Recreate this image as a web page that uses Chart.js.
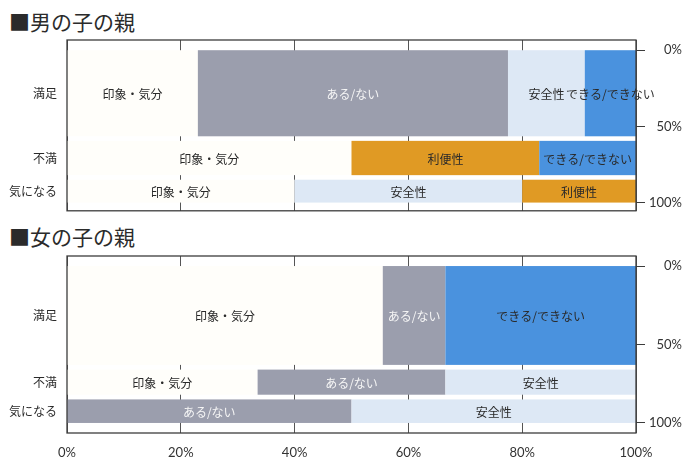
<!DOCTYPE html>
<html lang="ja">
<head>
    <meta charset="UTF-8">
    <title>男の子の親・女の子の親</title>
    <style>
        body { margin: 0; background: #ffffff; width: 685px; height: 458px; position: relative; overflow: hidden; font-family: "Noto Sans CJK JP", sans-serif; }
        .title { position: absolute; left: 9px; font-size: 21px; line-height: 1; color: #2b2b2b; }
        #title1 { top: 11px; }
        #title2 { top: 226px; }
        .box { position: absolute; left: 0; width: 685px; }
        #box1 { top: 0; height: 228px; }
        #box2 { top: 228px; height: 230px; }
    </style>
</head>
<body>
    <div class="title" id="title1">■男の子の親</div>
    <div class="title" id="title2">■女の子の親</div>
    <div class="box" id="box1"><canvas id="boysChart"></canvas></div>
    <div class="box" id="box2"><canvas id="girlsChart"></canvas></div>

    <script src="https://cdn.jsdelivr.net/npm/chart.js"></script>
    <script>
        // Rader og akser
        const rowNames = ["満足", "不満", "気になる"];
        const xTicks = [0, 20, 40, 60, 80, 100];
        const yTicks = [0, 50, 100];

        // 男の子の親: radens øvre/nedre kant i % av høyden
        const boyRowFrom = [0, 59.5, 85];
        const boyRowTo = [56.5, 82, 100];
        const boySatisfiedCats = ["印象・気分", "ある/ない", "安全性", "できる/できない"];
        const boySatisfiedVals = [23, 54.5, 13.5, 9];
        const boyUnhappyCats = ["印象・気分", "利便性", "できる/できない"];
        const boyUnhappyVals = [50, 33, 17];
        const boyConcernCats = ["印象・気分", "安全性", "利便性"];
        const boyConcernVals = [40, 40, 20];

        // 女の子の親
        const girlRowFrom = [0, 66, 85];
        const girlRowTo = [63, 82, 100];
        const girlSatisfiedCats = ["印象・気分", "ある/ない", "できる/できない"];
        const girlSatisfiedVals = [55.5, 11, 33.5];
        const girlUnhappyCats = ["印象・気分", "ある/ない", "安全性"];
        const girlUnhappyVals = [33.5, 33, 33.5];
        const girlConcernCats = ["ある/ない", "安全性"];
        const girlConcernVals = [50, 50];

        // Farger per kategori
        const fillColors = {
            "印象・気分": "#fffefa",
            "ある/ない": "#9b9ead",
            "安全性": "#dde8f5",
            "できる/できない": "#4a92de",
            "利便性": "#e09a24"
        };
        const labelColors = { "ある/ない": "#f6f6f6" };

        const numFont = { family: "Lato, 'DejaVu Sans', sans-serif", size: 13 };
        const jpFont = "'Noto Sans CJK JP', sans-serif";
        const lineColor = "#3c3c3c";

        // Tegner segmentene (mekko) med skalaene til Chart.js
        const mekkoPlugin = {
            id: "mekko",
            beforeDatasetsDraw(chart) {
                const rows = chart.options.plugins.mekko.rows;
                const { ctx, scales: { x, y } } = chart;
                ctx.save();
                const labels = [];
                rows.forEach(row => {
                    const top = y.getPixelForValue(row.from);
                    const bottom = y.getPixelForValue(row.to);
                    let acc = 0;
                    row.cats.forEach((cat, j) => {
                        const left = x.getPixelForValue(acc);
                        const right = x.getPixelForValue(acc + row.vals[j]);
                        ctx.fillStyle = fillColors[cat];
                        ctx.fillRect(left, top, right - left, bottom - top);
                        labels.push({ text: cat, x: (left + right) / 2, y: (top + bottom) / 2 + 1 });
                        acc += row.vals[j];
                    });
                });
                // tekst etter alle flater, siden noen etiketter går over kanten
                ctx.font = "12px " + jpFont;
                ctx.textAlign = "center";
                ctx.textBaseline = "middle";
                labels.forEach(l => {
                    ctx.fillStyle = labelColors[l.text] || "#2a2a2a";
                    ctx.fillText(l.text, l.x, l.y);
                });
                ctx.restore();
            },
            afterDatasetsDraw(chart) {
                const { ctx, chartArea: a } = chart;
                ctx.save();
                ctx.strokeStyle = lineColor;
                ctx.lineWidth = 1.3;
                ctx.strokeRect(a.left, a.top, a.right - a.left, a.bottom - a.top);
                ctx.restore();
            }
        };

        function makeChart(canvasId, rowFrom, rowTo, cats, vals, yMin, yMax, padTop, xHeight, showX) {
            const rows = rowNames.map((name, i) => ({ name: name, from: rowFrom[i], to: rowTo[i], cats: cats[i], vals: vals[i] }));
            const centers = rows.map(r => (r.from + r.to) / 2);
            return new Chart(document.getElementById(canvasId), {
                type: "scatter",
                data: { datasets: [] },
                plugins: [mekkoPlugin],
                options: {
                    responsive: true,
                    maintainAspectRatio: false,
                    animation: false,
                    layout: { padding: { top: padTop, left: 0, right: 3, bottom: 0 } },
                    plugins: {
                        legend: { display: false },
                        tooltip: { enabled: false },
                        mekko: { rows: rows }
                    },
                    scales: {
                        x: {
                            type: "linear",
                            min: 0,
                            max: 100,
                            afterBuildTicks: s => { s.ticks = xTicks.map(v => ({ value: v })); },
                            ticks: { display: showX, padding: 12, color: "#333", font: numFont, callback: v => v + "%" },
                            grid: { color: "#555", lineWidth: 1, drawTicks: false },
                            border: { display: false },
                            afterFit: s => { s.height = xHeight; }
                        },
                        y: {
                            type: "linear",
                            position: "right",
                            reverse: true,
                            min: yMin,
                            max: yMax,
                            afterBuildTicks: s => { s.ticks = yTicks.map(v => ({ value: v })); },
                            ticks: { padding: 3, crossAlign: "far", color: "#333", font: numFont, callback: v => v + "%" },
                            grid: { drawOnChartArea: false, drawTicks: true, tickLength: 9, color: lineColor },
                            border: { display: false },
                            afterFit: s => { s.width = 46; }
                        },
                        rowAxis: {
                            type: "linear",
                            position: "left",
                            reverse: true,
                            min: yMin,
                            max: yMax,
                            afterBuildTicks: s => { s.ticks = centers.map(v => ({ value: v })); },
                            ticks: { padding: 10, color: "#2a2a2a", font: { family: jpFont, size: 12 }, autoSkip: false, callback: (v, i) => rowNames[i] },
                            grid: { display: false, drawTicks: false },
                            border: { display: false },
                            afterFit: s => { s.width = 67; }
                        }
                    }
                }
            });
        }

        makeChart("boysChart", boyRowFrom, boyRowTo,
            [boySatisfiedCats, boyUnhappyCats, boyConcernCats],
            [boySatisfiedVals, boyUnhappyVals, boyConcernVals],
            -6.7, 105.4, 40, 12, false);

        makeChart("girlsChart", girlRowFrom, girlRowTo,
            [girlSatisfiedCats, girlUnhappyCats, girlConcernCats],
            [girlSatisfiedVals, girlUnhappyVals, girlConcernVals],
            -6.4, 106.4, 28, 25, true);
    </script>
</body>
</html>
